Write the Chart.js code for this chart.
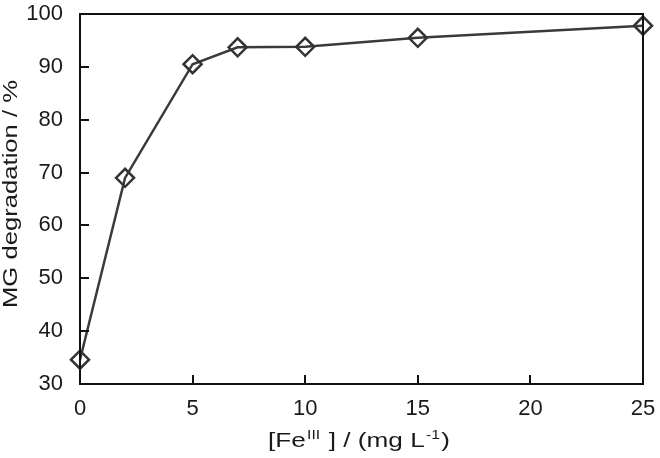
<!DOCTYPE html>
<html>
<head>
<meta charset="utf-8">
<script src="https://cdn.jsdelivr.net/npm/chart.js@4.4.0/dist/chart.umd.min.js"></script>
<style>
  html, body { margin: 0; padding: 0; background: #fff; }
  #wrap { width: 660px; height: 458px; }
</style>
</head>
<body>
<div id="wrap"><canvas id="chart" width="660" height="458"></canvas></div>
<script>
// === data ===
const feConc = [0, 2, 5, 7, 10, 15, 25];                 // [Fe III] mg/L
const degradation = [34.6, 69.0, 90.5, 93.7, 93.8, 95.5, 97.8]; // %
const xTicks = [0, 5, 10, 15, 20, 25];
const yTicks = [30, 40, 50, 60, 70, 80, 90, 100];

const FONT = '"Liberation Sans", Arial, sans-serif';
const INK = '#1a1a1a';

// kill the automatic label padding so the plot box sits where the figure has it
function noPad(s) {
  s.paddingTop = 0; s.paddingBottom = 0; s.paddingLeft = 0; s.paddingRight = 0;
}

// frame, inward ticks and axis titles (with superscripts)
const framePlugin = {
  id: 'frame',
  afterDatasetsDraw(chart) {
    const { ctx, chartArea: a, scales } = chart;
    ctx.save();
    ctx.strokeStyle = '#111';
    ctx.lineWidth = 2;
    ctx.strokeRect(a.left, a.top, a.right - a.left, a.bottom - a.top);
    ctx.beginPath();
    xTicks.forEach(v => {
      const px = Math.round(scales.x.getPixelForValue(v));
      ctx.moveTo(px, a.bottom);
      ctx.lineTo(px, a.bottom - 9);
    });
    yTicks.forEach(v => {
      const py = Math.round(scales.y.getPixelForValue(v));
      ctx.moveTo(a.left, py);
      ctx.lineTo(a.left + 9, py);
    });
    ctx.stroke();
    ctx.restore();
  },
  afterDraw(chart) {
    const ctx = chart.ctx;
    ctx.save();
    ctx.fillStyle = INK;
    ctx.textBaseline = 'alphabetic';

    // y title
    ctx.font = '21px ' + FONT;
    const yt = 'MG degradation / %';
    const yw = ctx.measureText(yt).width;
    ctx.translate(17, 308);
    ctx.rotate(-Math.PI / 2);
    ctx.scale(228 / yw, 1);
    ctx.fillText(yt, 0, 0);
    ctx.setTransform(1, 0, 0, 1, 0, 0);

    // x title: [Fe^III ] / (mg L^-1)
    const parts = [
      { t: '[Fe', sup: false },
      { t: 'III', sup: true },
      { t: ' ] / (mg L', sup: false },
      { t: '-1', sup: true },
      { t: ')', sup: false }
    ];
    const big = '20px ' + FONT, small = '12px ' + FONT;
    let total = 0;
    parts.forEach(p => { ctx.font = p.sup ? small : big; p.w = ctx.measureText(p.t).width; total += p.w + (p.sup ? 2 : 0); });
    ctx.translate(268, 447);
    ctx.scale(182 / total, 1);
    let cx = 0;
    parts.forEach(p => {
      ctx.font = p.sup ? small : big;
      if (p.sup) cx += 1;
      ctx.fillText(p.t, cx, p.sup ? -8 : 0);
      cx += p.w + (p.sup ? 1 : 0);
    });
    ctx.restore();
  }
};

new Chart(document.getElementById('chart'), {
  type: 'line',
  data: {
    datasets: [{
      data: feConc.map((x, i) => ({ x: x, y: degradation[i] })),
      borderColor: '#3a3a3a',
      borderWidth: 2.5,
      pointStyle: 'rectRot',
      pointRadius: 9,
      pointBorderWidth: 2.5,
      pointBorderColor: '#333',
      pointBackgroundColor: 'rgba(0,0,0,0)',
      tension: 0,
      clip: false
    }]
  },
  options: {
    responsive: false,
    animation: false,
    layout: { padding: { left: 0, right: 17, top: 14, bottom: 0 } },
    plugins: { legend: { display: false }, tooltip: { enabled: false } },
    scales: {
      x: {
        type: 'linear',
        min: 0, max: 25,
        afterBuildTicks: s => { s.ticks = xTicks.map(v => ({ value: v })); },
        afterFit: s => { s.height = 74; noPad(s); },
        grid: { display: false, drawTicks: false },
        border: { display: false },
        ticks: { padding: 12, color: INK, font: { family: FONT, size: 22 } }
      },
      y: {
        type: 'linear',
        min: 30, max: 100,
        afterBuildTicks: s => { s.ticks = yTicks.map(v => ({ value: v })); },
        afterFit: s => { s.width = 80; noPad(s); },
        grid: { display: false, drawTicks: false },
        border: { display: false },
        ticks: { padding: 17, color: INK, font: { family: FONT, size: 22 } }
      }
    }
  },
  plugins: [framePlugin]
});
</script>
</body>
</html>
